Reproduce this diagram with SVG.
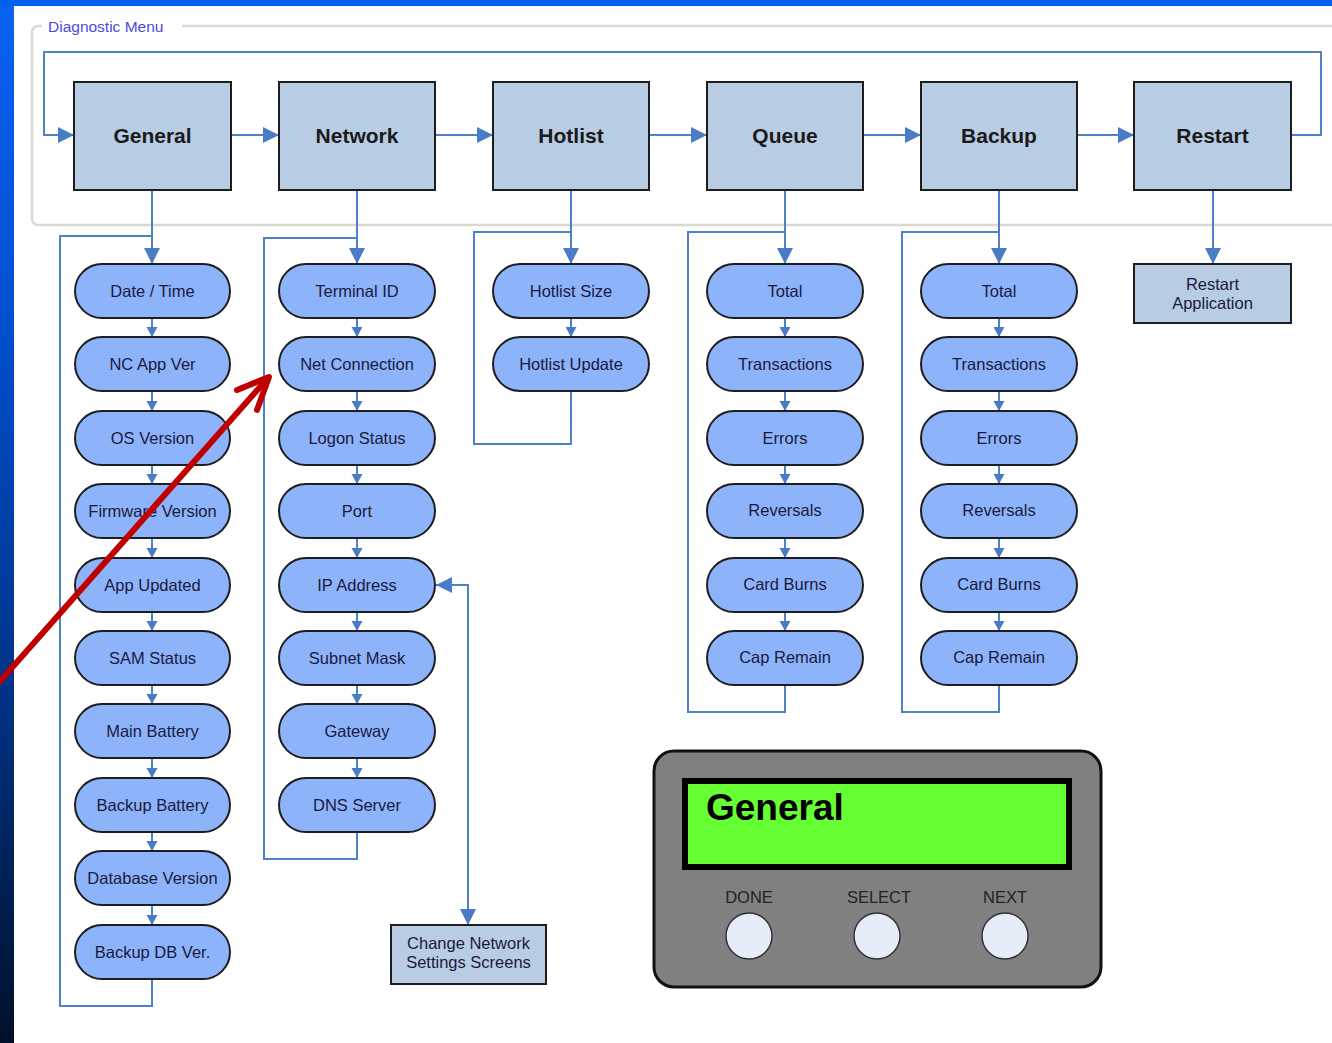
<svg xmlns="http://www.w3.org/2000/svg" width="1332" height="1043" viewBox="0 0 1332 1043">
<defs>
<linearGradient id="side" x1="0" y1="0" x2="0" y2="1">
<stop offset="0" stop-color="#0a62f2"/>
<stop offset="0.3" stop-color="#0050d0"/>
<stop offset="0.65" stop-color="#00348a"/>
<stop offset="1" stop-color="#00102a"/>
</linearGradient>
<marker id="big" markerUnits="userSpaceOnUse" markerWidth="18" markerHeight="16" refX="16" refY="8" orient="auto">
<path d="M0,0 L16,8 L0,16 Z" fill="#4a7cc6"/>
</marker>
<marker id="small" markerUnits="userSpaceOnUse" markerWidth="12" markerHeight="12" refX="10" refY="5.5" orient="auto">
<path d="M0,0 L10,5.5 L0,11 Z" fill="#4a7cc6"/>
</marker>
<marker id="bigstart" markerUnits="userSpaceOnUse" markerWidth="18" markerHeight="16" refX="0" refY="8" orient="auto">
<path d="M16,0 L0,8 L16,16 Z" fill="#4a7cc6"/>
</marker>
</defs>
<style>
.conn{fill:none;stroke:#4f81c9;stroke-width:2}
.top{fill:#b8cce4;stroke:#1e1e1e;stroke-width:2}
.topt{font-family:"Liberation Sans",Arial,sans-serif;font-weight:bold;font-size:21px;fill:#1a1a1a;text-anchor:middle}
.pill{fill:#8db3fb;stroke:#1e1e1e;stroke-width:2}
.pt{font-family:"Liberation Sans",Arial,sans-serif;font-size:16.5px;fill:#1a1a3c;text-anchor:middle}
.box{fill:#b8cce4;stroke:#1e1e1e;stroke-width:2}
.bt{font-family:"Liberation Sans",Arial,sans-serif;font-size:16.5px;fill:#1a1a3c;text-anchor:middle}
.lbl{font-family:"Liberation Sans",Arial,sans-serif;font-size:16.5px;fill:#222;text-anchor:middle}
</style>
<rect x="0" y="0" width="1332" height="1043" fill="#ffffff"/>
<rect x="0" y="0" width="14" height="1043" fill="url(#side)"/>
<rect x="0" y="0" width="1332" height="6" fill="#0060f0"/>
<g id="frame">
<rect x="32" y="26" width="1320" height="199" rx="6" fill="none" stroke="#d9d9cf" stroke-width="2.5"/>
<rect x="42" y="16" width="140" height="20" fill="#ffffff"/>
<text x="48" y="32" font-family="Liberation Sans,Arial,sans-serif" font-size="15.5" fill="#4a4ae0">Diagnostic Menu</text>
</g>
<g id="connectors">
<polyline class="conn" points="1291,135 1321,135 1321,52 44,52 44,135 74,135" marker-end="url(#big)"/>
<line class="conn" x1="231" y1="135" x2="279" y2="135" marker-end="url(#big)"/>
<line class="conn" x1="435" y1="135" x2="493" y2="135" marker-end="url(#big)"/>
<line class="conn" x1="649" y1="135" x2="707" y2="135" marker-end="url(#big)"/>
<line class="conn" x1="863" y1="135" x2="921" y2="135" marker-end="url(#big)"/>
<line class="conn" x1="1077" y1="135" x2="1134" y2="135" marker-end="url(#big)"/>
<line class="conn" x1="152" y1="190" x2="152" y2="264" marker-end="url(#big)"/>
<line class="conn" x1="357" y1="190" x2="357" y2="264" marker-end="url(#big)"/>
<line class="conn" x1="571" y1="190" x2="571" y2="264" marker-end="url(#big)"/>
<line class="conn" x1="785" y1="190" x2="785" y2="264" marker-end="url(#big)"/>
<line class="conn" x1="999" y1="190" x2="999" y2="264" marker-end="url(#big)"/>
<line class="conn" x1="1213" y1="190" x2="1213" y2="264" marker-end="url(#big)"/>
<polyline class="conn" points="152,979 152,1006 60,1006 60,236 152,236"/>
<polyline class="conn" points="357,832 357,859 264,859 264,238 357,238"/>
<polyline class="conn" points="571,391 571,444 474,444 474,232 571,232"/>
<polyline class="conn" points="785,685 785,712 688,712 688,232 785,232"/>
<polyline class="conn" points="999,685 999,712 902,712 902,232 999,232"/>
<g id="general-steps">
<line class="conn" x1="152" y1="318" x2="152" y2="337" marker-end="url(#small)"/>
<line class="conn" x1="152" y1="391" x2="152" y2="411" marker-end="url(#small)"/>
<line class="conn" x1="152" y1="465" x2="152" y2="484" marker-end="url(#small)"/>
<line class="conn" x1="152" y1="538" x2="152" y2="558" marker-end="url(#small)"/>
<line class="conn" x1="152" y1="612" x2="152" y2="631" marker-end="url(#small)"/>
<line class="conn" x1="152" y1="685" x2="152" y2="704" marker-end="url(#small)"/>
<line class="conn" x1="152" y1="758" x2="152" y2="778" marker-end="url(#small)"/>
<line class="conn" x1="152" y1="832" x2="152" y2="851" marker-end="url(#small)"/>
<line class="conn" x1="152" y1="905" x2="152" y2="925" marker-end="url(#small)"/>
</g>
<g id="network-steps">
<line class="conn" x1="357" y1="318" x2="357" y2="337" marker-end="url(#small)"/>
<line class="conn" x1="357" y1="391" x2="357" y2="411" marker-end="url(#small)"/>
<line class="conn" x1="357" y1="465" x2="357" y2="484" marker-end="url(#small)"/>
<line class="conn" x1="357" y1="538" x2="357" y2="558" marker-end="url(#small)"/>
<line class="conn" x1="357" y1="612" x2="357" y2="631" marker-end="url(#small)"/>
<line class="conn" x1="357" y1="685" x2="357" y2="704" marker-end="url(#small)"/>
<line class="conn" x1="357" y1="758" x2="357" y2="778" marker-end="url(#small)"/>
</g>
<line class="conn" x1="571" y1="318" x2="571" y2="337" marker-end="url(#small)"/>
<g id="queue-steps">
<line class="conn" x1="785" y1="318" x2="785" y2="337" marker-end="url(#small)"/>
<line class="conn" x1="785" y1="391" x2="785" y2="411" marker-end="url(#small)"/>
<line class="conn" x1="785" y1="465" x2="785" y2="484" marker-end="url(#small)"/>
<line class="conn" x1="785" y1="538" x2="785" y2="558" marker-end="url(#small)"/>
<line class="conn" x1="785" y1="612" x2="785" y2="631" marker-end="url(#small)"/>
</g>
<g id="backup-steps">
<line class="conn" x1="999" y1="318" x2="999" y2="337" marker-end="url(#small)"/>
<line class="conn" x1="999" y1="391" x2="999" y2="411" marker-end="url(#small)"/>
<line class="conn" x1="999" y1="465" x2="999" y2="484" marker-end="url(#small)"/>
<line class="conn" x1="999" y1="538" x2="999" y2="558" marker-end="url(#small)"/>
<line class="conn" x1="999" y1="612" x2="999" y2="631" marker-end="url(#small)"/>
</g>
<polyline class="conn" points="436,585 468,585 468,925" marker-start="url(#bigstart)" marker-end="url(#big)"/>
</g>
<g id="top-nodes">
<g id="n-general"><rect class="top" x="74" y="82" width="157" height="108"/><text class="topt" x="152.5" y="143">General</text></g>
<g id="n-network"><rect class="top" x="279" y="82" width="156" height="108"/><text class="topt" x="357" y="143">Network</text></g>
<g id="n-hotlist"><rect class="top" x="493" y="82" width="156" height="108"/><text class="topt" x="571" y="143">Hotlist</text></g>
<g id="n-queue"><rect class="top" x="707" y="82" width="156" height="108"/><text class="topt" x="785" y="143">Queue</text></g>
<g id="n-backup"><rect class="top" x="921" y="82" width="156" height="108"/><text class="topt" x="999" y="143">Backup</text></g>
<g id="n-restart"><rect class="top" x="1134" y="82" width="157" height="108"/><text class="topt" x="1212.5" y="143">Restart</text></g>
</g>
<g id="general-items">
<g id="g1"><rect class="pill" x="75" y="264" width="155" height="54" rx="27"/><text class="pt" x="152.5" y="297">Date / Time</text></g>
<g id="g2"><rect class="pill" x="75" y="337" width="155" height="54" rx="27"/><text class="pt" x="152.5" y="370">NC App Ver</text></g>
<g id="g3"><rect class="pill" x="75" y="411" width="155" height="54" rx="27"/><text class="pt" x="152.5" y="444">OS Version</text></g>
<g id="g4"><rect class="pill" x="75" y="484" width="155" height="54" rx="27"/><text class="pt" x="152.5" y="517">Firmware Version</text></g>
<g id="g5"><rect class="pill" x="75" y="558" width="155" height="54" rx="27"/><text class="pt" x="152.5" y="591">App Updated</text></g>
<g id="g6"><rect class="pill" x="75" y="631" width="155" height="54" rx="27"/><text class="pt" x="152.5" y="664">SAM Status</text></g>
<g id="g7"><rect class="pill" x="75" y="704" width="155" height="54" rx="27"/><text class="pt" x="152.5" y="737">Main Battery</text></g>
<g id="g8"><rect class="pill" x="75" y="778" width="155" height="54" rx="27"/><text class="pt" x="152.5" y="811">Backup Battery</text></g>
<g id="g9"><rect class="pill" x="75" y="851" width="155" height="54" rx="27"/><text class="pt" x="152.5" y="884">Database Version</text></g>
<g id="g10"><rect class="pill" x="75" y="925" width="155" height="54" rx="27"/><text class="pt" x="152.5" y="958">Backup DB Ver.</text></g>
</g>
<g id="network-items">
<g id="w1"><rect class="pill" x="279" y="264" width="156" height="54" rx="27"/><text class="pt" x="357" y="297">Terminal ID</text></g>
<g id="w2"><rect class="pill" x="279" y="337" width="156" height="54" rx="27"/><text class="pt" x="357" y="370">Net Connection</text></g>
<g id="w3"><rect class="pill" x="279" y="411" width="156" height="54" rx="27"/><text class="pt" x="357" y="444">Logon Status</text></g>
<g id="w4"><rect class="pill" x="279" y="484" width="156" height="54" rx="27"/><text class="pt" x="357" y="517">Port</text></g>
<g id="w5"><rect class="pill" x="279" y="558" width="156" height="54" rx="27"/><text class="pt" x="357" y="591">IP Address</text></g>
<g id="w6"><rect class="pill" x="279" y="631" width="156" height="54" rx="27"/><text class="pt" x="357" y="664">Subnet Mask</text></g>
<g id="w7"><rect class="pill" x="279" y="704" width="156" height="54" rx="27"/><text class="pt" x="357" y="737">Gateway</text></g>
<g id="w8"><rect class="pill" x="279" y="778" width="156" height="54" rx="27"/><text class="pt" x="357" y="811">DNS Server</text></g>
</g>
<g id="hotlist-items">
<g id="h1"><rect class="pill" x="493" y="264" width="156" height="54" rx="27"/><text class="pt" x="571" y="297">Hotlist Size</text></g>
<g id="h2"><rect class="pill" x="493" y="337" width="156" height="54" rx="27"/><text class="pt" x="571" y="370">Hotlist Update</text></g>
</g>
<g id="queue-items">
<g id="q1"><rect class="pill" x="707" y="264" width="156" height="54" rx="27"/><text class="pt" x="785" y="297">Total</text></g>
<g id="q2"><rect class="pill" x="707" y="337" width="156" height="54" rx="27"/><text class="pt" x="785" y="370">Transactions</text></g>
<g id="q3"><rect class="pill" x="707" y="411" width="156" height="54" rx="27"/><text class="pt" x="785" y="444">Errors</text></g>
<g id="q4"><rect class="pill" x="707" y="484" width="156" height="54" rx="27"/><text class="pt" x="785" y="516">Reversals</text></g>
<g id="q5"><rect class="pill" x="707" y="558" width="156" height="54" rx="27"/><text class="pt" x="785" y="590">Card Burns</text></g>
<g id="q6"><rect class="pill" x="707" y="631" width="156" height="54" rx="27"/><text class="pt" x="785" y="663">Cap Remain</text></g>
</g>
<g id="backup-items">
<g id="b1"><rect class="pill" x="921" y="264" width="156" height="54" rx="27"/><text class="pt" x="999" y="297">Total</text></g>
<g id="b2"><rect class="pill" x="921" y="337" width="156" height="54" rx="27"/><text class="pt" x="999" y="370">Transactions</text></g>
<g id="b3"><rect class="pill" x="921" y="411" width="156" height="54" rx="27"/><text class="pt" x="999" y="444">Errors</text></g>
<g id="b4"><rect class="pill" x="921" y="484" width="156" height="54" rx="27"/><text class="pt" x="999" y="516">Reversals</text></g>
<g id="b5"><rect class="pill" x="921" y="558" width="156" height="54" rx="27"/><text class="pt" x="999" y="590">Card Burns</text></g>
<g id="b6"><rect class="pill" x="921" y="631" width="156" height="54" rx="27"/><text class="pt" x="999" y="663">Cap Remain</text></g>
</g>
<g id="restart-app"><rect class="box" x="1134" y="264" width="157" height="59"/><text class="bt" x="1212.5" y="290">Restart</text><text class="bt" x="1212.5" y="309">Application</text></g>
<g id="change-network"><rect class="box" x="391" y="925" width="155" height="59"/><text class="bt" x="468.5" y="949">Change Network</text><text class="bt" x="468.5" y="968">Settings Screens</text></g>
<g id="lcd">
<rect x="654" y="751" width="447" height="236" rx="20" fill="#808080" stroke="#111" stroke-width="3"/>
<rect x="685" y="781" width="384" height="86" fill="#66ff33" stroke="#000" stroke-width="6"/>
<text x="706" y="820" font-family="Liberation Sans,Arial,sans-serif" font-weight="bold" font-size="37" fill="#000">General</text>
<text class="lbl" x="749" y="903">DONE</text>
<text class="lbl" x="879" y="903">SELECT</text>
<text class="lbl" x="1005" y="903">NEXT</text>
<circle cx="749" cy="936" r="23" fill="#e6edf8" stroke="#333" stroke-width="1.5"/>
<circle cx="877" cy="936" r="23" fill="#e6edf8" stroke="#333" stroke-width="1.5"/>
<circle cx="1005" cy="936" r="23" fill="#e6edf8" stroke="#333" stroke-width="1.5"/>
</g>
<g id="red-arrow" fill="none" stroke="#c00000" stroke-width="6" stroke-linecap="round" stroke-linejoin="round">
<line x1="-5" y1="687" x2="267" y2="379"/>
<polyline points="237,390 269,377 257,410"/>
</g>
</svg>
